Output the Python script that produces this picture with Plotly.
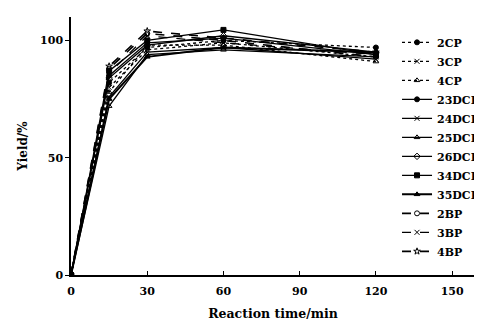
import plotly.graph_objects as go

time_min = [0, 15, 30, 60, 120]

series_names = ["2CP", "3CP", "4CP", "23DCP", "24DCP", "25DCP", "26DCP",
                "34DCP", "35DCP", "2BP", "3BP", "4BP"]

y_2CP = [0, 82, 97, 100, 97]
y_3CP = [0, 80, 96, 99, 93]
y_4CP = [0, 78, 98, 98, 91]
y_23DCP = [0, 85, 99, 101, 94]
y_24DCP = [0, 76, 95, 97, 92]
y_25DCP = [0, 72, 94, 96, 93]
y_26DCP = [0, 84, 98, 102, 95]
y_34DCP = [0, 87, 100, 104.5, 94]
y_35DCP = [0, 75, 93, 97, 95]
y_2BP = [0, 88, 103, 100, 93]
y_3BP = [0, 86, 102, 99, 94]
y_4BP = [0, 89, 104, 101, 95]

values = [y_2CP, y_3CP, y_4CP, y_23DCP, y_24DCP, y_25DCP, y_26DCP,
          y_34DCP, y_35DCP, y_2BP, y_3BP, y_4BP]

dashes = ["dot", "dot", "dot", "solid", "solid", "solid", "solid",
          "solid", "solid", "dash", "dash", "dash"]
symbols = ["circle", "x-thin-open", "triangle-up-open", "circle", "x-thin-open",
           "triangle-up-open", "diamond-open", "square", "triangle-up",
           "circle-open", "x-thin-open", "star-open"]
widths = [1.3, 1.3, 1.3, 1.3, 1.3, 1.3, 1.3, 1.3, 2, 1.6, 1.3, 1.6]

font_family = "DejaVu Serif"

fig = go.Figure()
for name, ys, d, s, w in zip(series_names, values, dashes, symbols, widths):
    fig.add_trace(go.Scatter(
        x=time_min, y=ys, name=name, mode="lines+markers",
        line=dict(color="black", width=w, dash=d),
        marker=dict(symbol=s, size=5, color="black",
                    line=dict(color="black", width=1)),
    ))

# page body has an 8px default margin, so the figure is sized to fit within it
fig.update_layout(
    width=474, height=317,
    margin=dict(l=63, r=7, t=9, b=50, autoexpand=False),
    paper_bgcolor="white", plot_bgcolor="white",
    font=dict(family=font_family, size=11, color="black", weight="bold"),
    showlegend=True,
    legend=dict(x=0.807, y=0.958, xanchor="left", yanchor="top",
                bgcolor="rgba(0,0,0,0)", font=dict(size=11, family=font_family, weight="bold"),
                itemwidth=30, tracegroupgap=0),
)
fig.update_xaxes(
    range=[0, 159], tickvals=[0, 30, 60, 90, 120, 150],
    showgrid=False, zeroline=False, showline=True, linecolor="black", linewidth=1.5,
    ticks="inside", ticklen=4, tickcolor="black", automargin=False, ticklabelstandoff=5,
    title=dict(text="Reaction time/min", font=dict(size=12.5, family=font_family, weight="bold"), standoff=12),
)
fig.update_yaxes(
    range=[0, 110], tickvals=[0, 50, 100],
    showgrid=False, zeroline=False, showline=True, linecolor="black", linewidth=1.5,
    ticks="outside", ticklen=4, tickcolor="black", automargin=False,
    title=dict(text="Yield/%", font=dict(size=12, family=font_family, weight="bold"), standoff=10),
)

fig.write_html("out.html")
